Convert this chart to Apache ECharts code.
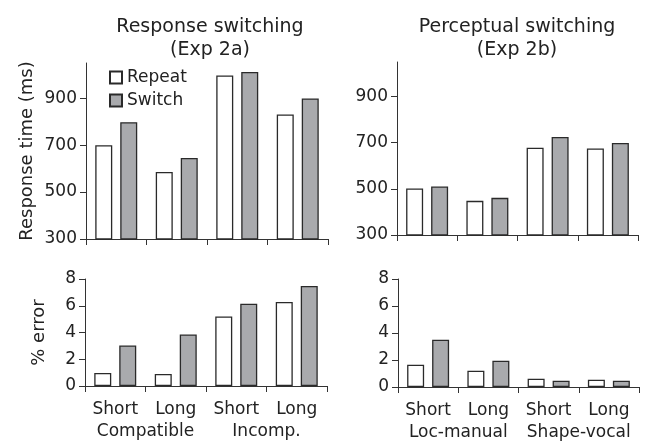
<!DOCTYPE html>
<html>
<head>
<meta charset="utf-8">
<script src="https://cdn.jsdelivr.net/npm/echarts@6/dist/echarts.min.js"></script>
<style>
  html, body { margin: 0; padding: 0; background: #fff; }
  #chart { width: 645px; height: 445px; }
</style>
</head>
<body>
<div id="chart"></div>
<script>
const conditions = ['Short', 'Long', 'Short', 'Long'];
const groups2a = ['Compatible', 'Incomp.'];
const groups2b = ['Loc-manual', 'Shape-vocal'];
const rtTicks = [300, 500, 700, 900];

// response time (ms)
const rtRepeat2a = [700, 586, 997, 831];
const rtSwitch2a = [798, 645, 1012, 899];
const rtRepeat2b = [502, 448, 678, 675];
const rtSwitch2b = [510, 461, 725, 699];

// % error
const errRepeat2a = [0.97, 0.9, 5.2, 6.28];
const errSwitch2a = [3.03, 3.85, 6.15, 7.48];
const errRepeat2b = [1.65, 1.2, 0.62, 0.54];
const errSwitch2b = [3.5, 1.95, 0.47, 0.47];

const FONT = 'DejaVu Sans';
const INK = '#222';
const AXIS = '#333';

const chart = echarts.init(document.getElementById('chart'));

const axisLine = { show: true, lineStyle: { color: AXIS, width: 1 } };
const axisTick = { show: true, length: 6, lineStyle: { color: AXIS, width: 1 } };

const catAxis = (gridIndex, showLabels) => ({
  type: 'category',
  gridIndex,
  data: conditions,
  axisLine,
  axisTick,
  axisLabel: { show: showLabels, interval: 0, color: INK, fontFamily: FONT, fontSize: 17, margin: 15 },
});

const groupAxis = (gridIndex, data) => ({
  type: 'category',
  gridIndex,
  data,
  position: 'bottom',
  axisLine: { show: false },
  axisTick: { show: false },
  axisLabel: { interval: 0, color: INK, fontFamily: FONT, fontSize: 17, margin: 37 },
});

const rtAxis = (gridIndex, name) => ({
  type: 'value',
  gridIndex,
  min: 300,
  max: 1050,
  name,
  nameLocation: 'middle',
  nameRotate: 90,
  nameGap: 50,
  nameTextStyle: { color: INK, fontFamily: FONT, fontSize: 18 },
  splitLine: { show: false },
  axisLine,
  axisTick: { ...axisTick, customValues: rtTicks },
  axisLabel: { color: INK, fontFamily: FONT, fontSize: 17, margin: 9, customValues: rtTicks },
});

const errAxis = (gridIndex, name) => ({
  type: 'value',
  gridIndex,
  min: 0,
  max: 8,
  interval: 2,
  name,
  nameLocation: 'middle',
  nameRotate: 90,
  nameGap: 37,
  nameTextStyle: { color: INK, fontFamily: FONT, fontSize: 18 },
  splitLine: { show: false },
  axisLine,
  axisTick,
  axisLabel: { color: INK, fontFamily: FONT, fontSize: 17, margin: 9 },
});

const repeatStyle = { color: '#fff', borderColor: '#2a2a2a', borderWidth: 1.3 };
const switchStyle = { color: '#a9aaad', borderColor: '#2a2a2a', borderWidth: 1.3 };

const bars = (name, data, axisIndex, style) => ({
  name,
  type: 'bar',
  xAxisIndex: axisIndex,
  yAxisIndex: axisIndex,
  data,
  barWidth: 17,
  barGap: '47%',
  itemStyle: style,
  emphasis: { disabled: true },
});

const option = {
  animation: false,
  backgroundColor: '#fff',
  textStyle: { fontFamily: FONT },
  title: [
    {
      text: 'Response switching\n(Exp 2a)',
      left: 205,
      top: 11,
      textAlign: 'center',
      textStyle: { color: INK, fontFamily: FONT, fontSize: 19, fontWeight: 'normal', lineHeight: 23 },
    },
    {
      text: 'Perceptual switching\n(Exp 2b)',
      left: 512,
      top: 11,
      textAlign: 'center',
      textStyle: { color: INK, fontFamily: FONT, fontSize: 19, fontWeight: 'normal', lineHeight: 23 },
    },
  ],
  legend: {
    data: ['Repeat', 'Switch'],
    orient: 'vertical',
    left: 104,
    top: 64,
    icon: 'rect',
    itemWidth: 12,
    itemHeight: 12,
    itemGap: 6,
    selectedMode: false,
    textStyle: { color: INK, fontFamily: FONT, fontSize: 17, padding: [0, 0, 0, 0] },
  },
  grid: [
    { left: 86, top: 63, width: 242, height: 176 },
    { left: 397, top: 62, width: 241, height: 173 },
    { left: 85, top: 279, width: 242, height: 107 },
    { left: 398, top: 279, width: 241, height: 108 },
  ],
  xAxis: [
    catAxis(0, false),
    catAxis(1, false),
    catAxis(2, true),
    catAxis(3, true),
    groupAxis(2, groups2a),
    groupAxis(3, groups2b),
  ],
  yAxis: [
    rtAxis(0, 'Response time (ms)'),
    rtAxis(1, ''),
    errAxis(2, '% error'),
    errAxis(3, ''),
  ],
  series: [
    bars('Repeat', rtRepeat2a, 0, repeatStyle),
    bars('Switch', rtSwitch2a, 0, switchStyle),
    bars('Repeat', rtRepeat2b, 1, repeatStyle),
    bars('Switch', rtSwitch2b, 1, switchStyle),
    bars('Repeat', errRepeat2a, 2, repeatStyle),
    bars('Switch', errSwitch2a, 2, switchStyle),
    bars('Repeat', errRepeat2b, 3, repeatStyle),
    bars('Switch', errSwitch2b, 3, switchStyle),
  ],
};

chart.setOption(option);
window.addEventListener('resize', () => {
  chart.resize();
});
</script>
</body>
</html>
